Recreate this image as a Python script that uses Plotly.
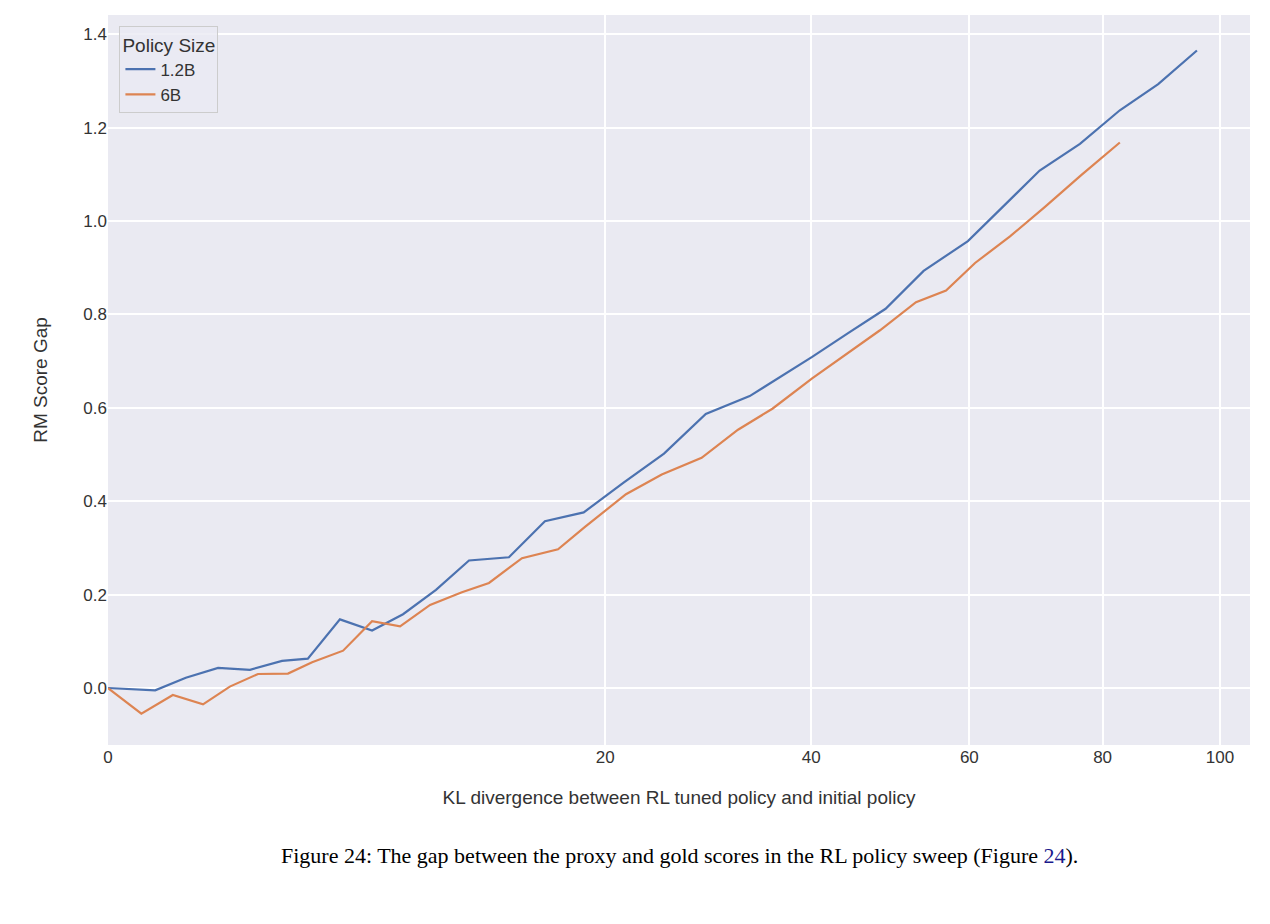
import plotly.graph_objects as go
import numpy as np

kl_12b = [0, 0.18, 0.49, 0.98, 1.63, 2.45, 3.23, 4.35, 5.64, 7.04, 8.70, 10.54, 13.0, 15.44, 18.3,
          21.5, 25.0, 28.9, 33.3, 40.1, 44.3, 48.9, 53.8, 59.8, 64.6, 70.2, 76.4, 82.8, 89.2, 95.9]
gap_12b = [0, -0.005, 0.022, 0.043, 0.039, 0.058, 0.063, 0.147, 0.123, 0.158, 0.21, 0.273, 0.28, 0.357, 0.376,
           0.44, 0.502, 0.587, 0.625, 0.709, 0.76, 0.812, 0.893, 0.957, 1.028, 1.108, 1.165, 1.237, 1.293, 1.365]
kl_6b = [0, 0.09, 0.34, 0.73, 1.2, 1.82, 2.62, 3.37, 4.47, 5.64, 6.9, 8.39, 10.13, 11.74, 13.86, 16.38, 18.4,
         21.7, 24.8, 28.5, 32.1, 35.7, 40.1, 44.3, 48.2, 52.8, 56.8, 60.8, 65.8, 71.0, 76.6, 82.8]
gap_6b = [0, -0.055, -0.015, -0.035, 0.003, 0.03, 0.031, 0.055, 0.08, 0.143, 0.132, 0.178, 0.205, 0.225, 0.278,
          0.297, 0.345, 0.415, 0.457, 0.493, 0.553, 0.598, 0.663, 0.718, 0.766, 0.826, 0.851, 0.91, 0.967,
          1.03, 1.098, 1.168]
x_ticks = [0, 20, 40, 60, 80, 100]
y_ticks = [0.0, 0.2, 0.4, 0.6, 0.8, 1.0, 1.2, 1.4]

font = "Liberation Sans, Arial, sans-serif"
fig = go.Figure()
fig.add_trace(go.Scatter(x=np.sqrt(kl_12b), y=gap_12b, mode="lines", name="1.2B",
                         line=dict(color="#4C72B0", width=2.2)))
fig.add_trace(go.Scatter(x=np.sqrt(kl_6b), y=gap_6b, mode="lines", name="6B",
                         line=dict(color="#DD8452", width=2.2)))
fig.update_layout(
    width=1270, height=924, paper_bgcolor="white", plot_bgcolor="#EAEAF2",
    margin=dict(l=100, r=28, t=7, b=187),
    font=dict(family=font, size=17, color="#333"),
    xaxis=dict(range=[0, 10.27], tickvals=np.sqrt(x_ticks), ticktext=[str(v) for v in x_ticks],
               gridcolor="white", gridwidth=1.5, zeroline=False, showline=False,
               title=dict(text="KL divergence between RL tuned policy and initial policy", standoff=24,
                          font=dict(size=19))),
    yaxis=dict(range=[-0.122, 1.441], tickvals=y_ticks, tickformat=".1f",
               gridcolor="white", gridwidth=1.5, zeroline=False, showline=False,
               title=dict(text="RM Score Gap", standoff=30, font=dict(size=19))),
    legend=dict(x=0.01, y=0.985, xanchor="left", yanchor="top", bgcolor="rgba(234,234,242,0.8)",
                bordercolor="#cccccc", borderwidth=1, title=dict(text="Policy Size", font=dict(size=19)),
                font=dict(size=17)),
    annotations=[dict(text="Figure 24: The gap between the proxy and gold scores in the RL policy sweep (Figure <span style='color:#1a1a8c'>24</span>).",
                      xref="paper", yref="paper", x=0.5, y=-0.131, yanchor="top", showarrow=False,
                      font=dict(family="Liberation Serif, Times New Roman, serif", size=22, color="black"))],
)
fig.write_html("out.html")
